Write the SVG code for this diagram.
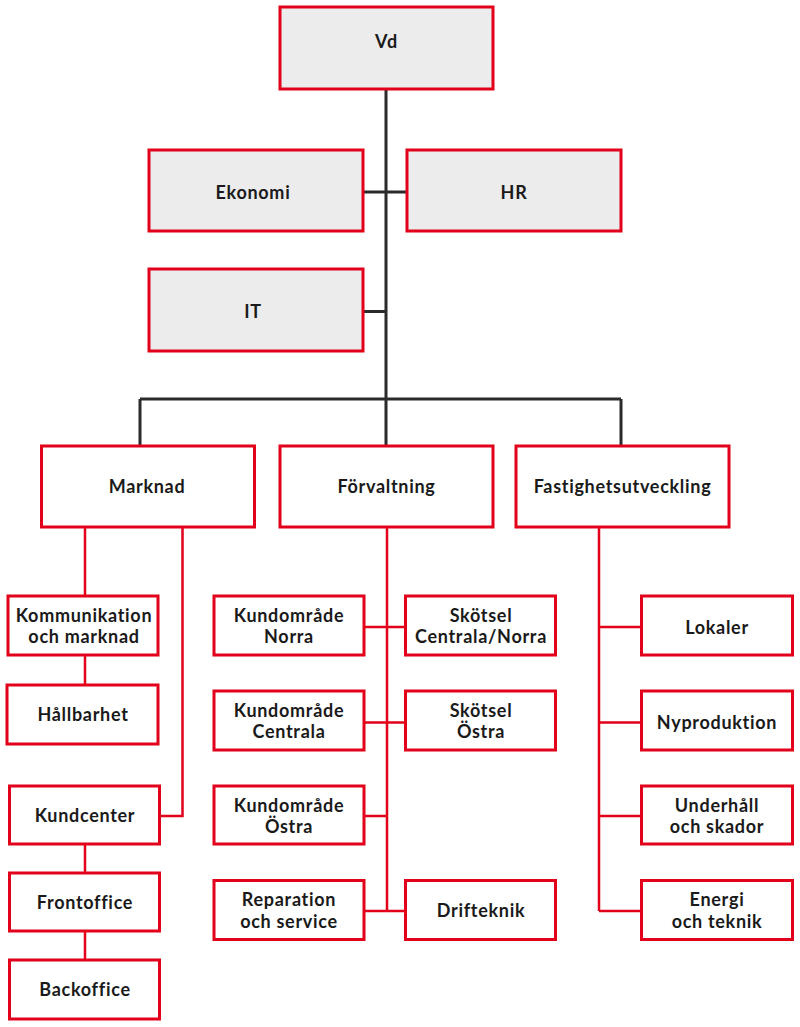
<svg xmlns="http://www.w3.org/2000/svg" width="800" height="1027" viewBox="0 0 800 1027">
<style>
.box{fill:#ffffff;stroke:#e2001a;stroke-width:3}
.top{fill:#ececec;stroke:#e2001a;stroke-width:3}
.blk{stroke:#2b2b2b;stroke-width:3;fill:none}
.red{stroke:#e2001a;stroke-width:2.5;fill:none}
text{font-family:Lato,"Liberation Sans",sans-serif;font-weight:700;font-size:18px;letter-spacing:0.7px;fill:#1a1a1a;text-anchor:middle}
</style>
<rect width="800" height="1027" fill="#ffffff"/>
<g id="connectors">
<path class="blk" d="M386,90 V399 M363,192 H407 M363,311.5 H386 M140,399 H621 M140,399 V445 M386,399 V445 M621,399 V445"/>
<path class="red" d="M85,528 V596 M85,655 V685 M182.5,528 V816 H161 M85,844 V873 M85,931 V960"/>
<path class="red" d="M387,528 V911 M364,627 H405.5 M364,722.5 H405.5 M364,816 H387 M364,911 H405.5"/>
<path class="red" d="M599,528 V911 M599,627 H641.5 M599,722.5 H641.5 M599,816 H641.5 M599,911 H641.5"/>
</g>
<g id="vd"><rect class="top" x="280" y="7" width="213" height="82"/><text x="386.5" y="48">Vd</text></g>
<g id="ekonomi"><rect class="top" x="149" y="150" width="214" height="81"/><text x="253" y="198.5">Ekonomi</text></g>
<g id="hr"><rect class="top" x="407" y="150" width="214" height="81"/><text x="514" y="198.5">HR</text></g>
<g id="it"><rect class="top" x="149" y="269" width="214" height="82"/><text x="253" y="317.5">IT</text></g>
<g id="marknad"><rect class="box" x="41.5" y="446" width="213" height="81"/><text x="147" y="493">Marknad</text></g>
<g id="forvaltning"><rect class="box" x="280" y="446" width="213" height="81"/><text x="386.5" y="493">Förvaltning</text></g>
<g id="fastighetsutveckling"><rect class="box" x="516" y="446" width="213" height="81"/><text x="622.5" y="493">Fastighetsutveckling</text></g>
<g id="kommunikation"><rect class="box" x="8" y="596" width="150" height="59"/><text x="84" y="622">Kommunikation</text><text x="84" y="643">och marknad</text></g>
<g id="hallbarhet"><rect class="box" x="7" y="685" width="151" height="59"/><text x="83" y="721">Hållbarhet</text></g>
<g id="kundcenter"><rect class="box" x="9.5" y="786" width="150" height="58"/><text x="85" y="822">Kundcenter</text></g>
<g id="frontoffice"><rect class="box" x="9.5" y="873" width="150" height="58"/><text x="85" y="909">Frontoffice</text></g>
<g id="backoffice"><rect class="box" x="9.5" y="960" width="150" height="59"/><text x="85" y="996">Backoffice</text></g>
<g id="kundomrade-norra"><rect class="box" x="214" y="596" width="150" height="59"/><text x="289" y="622">Kundområde</text><text x="289" y="643">Norra</text></g>
<g id="kundomrade-centrala"><rect class="box" x="214" y="691" width="150" height="59"/><text x="289" y="717">Kundområde</text><text x="289" y="738">Centrala</text></g>
<g id="kundomrade-ostra"><rect class="box" x="214" y="786" width="150" height="58"/><text x="289" y="812">Kundområde</text><text x="289" y="833">Östra</text></g>
<g id="reparation"><rect class="box" x="214" y="880.5" width="150" height="59"/><text x="289" y="906">Reparation</text><text x="289" y="928">och service</text></g>
<g id="skotsel-centrala-norra"><rect class="box" x="405.5" y="596" width="150" height="59"/><text x="481" y="622">Skötsel</text><text x="481" y="643">Centrala/Norra</text></g>
<g id="skotsel-ostra"><rect class="box" x="405.5" y="691" width="150" height="59"/><text x="481" y="717">Skötsel</text><text x="481" y="738">Östra</text></g>
<g id="drifteknik"><rect class="box" x="405.5" y="880.5" width="150" height="59"/><text x="481" y="917">Drifteknik</text></g>
<g id="lokaler"><rect class="box" x="641.5" y="596" width="151" height="59"/><text x="717" y="634">Lokaler</text></g>
<g id="nyproduktion"><rect class="box" x="641.5" y="691" width="151" height="59"/><text x="717" y="729">Nyproduktion</text></g>
<g id="underhall"><rect class="box" x="641.5" y="786" width="151" height="58"/><text x="717" y="812">Underhåll</text><text x="717" y="833">och skador</text></g>
<g id="energi"><rect class="box" x="641.5" y="880.5" width="151" height="59"/><text x="717" y="906">Energi</text><text x="717" y="928">och teknik</text></g>
</svg>
